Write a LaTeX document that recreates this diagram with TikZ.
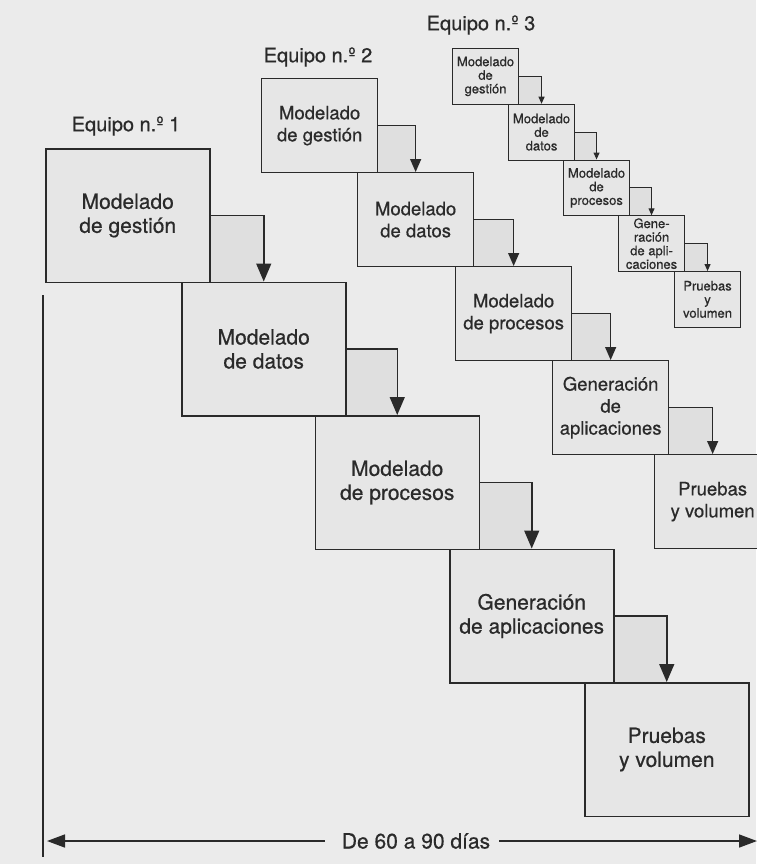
\documentclass[tikz,border=0pt]{standalone}
\usepackage{fontspec}
\setmainfont{TeX Gyre Heros}[FakeBold=0.6]
\usetikzlibrary{arrows.meta}
\definecolor{paper}{HTML}{EBEBEB}
\definecolor{boxfill}{HTML}{E6E6E6}
\definecolor{corner}{HTML}{DFDFDF}
\definecolor{ink}{HTML}{2A2A2A}
\pgfdeclarelayer{bg}
\pgfsetlayers{bg,main}
\tikzset{
  box/.style={draw=ink, fill=boxfill, anchor=north west, align=center, text=ink, inner sep=0pt},
  bigbox/.style={box, line width=1.5pt, minimum width=164pt, minimum height=133.5pt, font=\fontsize{21}{24}\selectfont},
  midbox/.style={box, line width=1.3pt, minimum width=116pt, minimum height=94pt, font=\fontsize{18.5}{22}\selectfont},
  smallbox/.style={box, line width=1.1pt, minimum width=66pt, minimum height=55.75pt, font=\fontsize{13}{13.6}\selectfont},
  bigflow/.style={draw=ink, line width=1.5pt, -{Triangle[length=18pt,width=15pt]}},
  midflow/.style={draw=ink, line width=1.3pt, -{Triangle[length=13pt,width=11pt]}},
  smallflow/.style={draw=ink, line width=1.1pt, -{Triangle[length=7pt,width=6pt]}},
  cornerfill/.style={fill=corner},
  teamlabel/.style={text=ink, font=\fontsize{20}{24}\selectfont, inner sep=0pt},
  span/.style={draw=ink, line width=1.5pt, -{Triangle[length=18pt,width=13pt]}},
}
\begin{document}
\begin{tikzpicture}[x=1pt,y=-1pt]
\begin{pgfonlayer}{bg}
  \fill[paper] (0,0) rectangle (756,864);
\end{pgfonlayer}
\useasboundingbox (0,0) rectangle (756,864);

% Team 1
\node[bigbox] (a1) at (45,148) {Modelado\\de gestión};
\node[bigbox] (a2) at (181,281.5) {Modelado\\de datos};
\node[bigbox] (a3) at (314.5,415) {Modelado\\de procesos};
\node[bigbox] (a4) at (449,548.5) {Generación\\de aplicaciones};
\node[bigbox] (a5) at (584,682) {Pruebas\\y volumen};

% Team 2
\node[midbox] (b1) at (261,78) {Modelado\\de gestión};
\node[midbox] (b2) at (357,172) {Modelado\\de datos};
\node[midbox] (b3) at (455,266) {Modelado\\de procesos};
\node[midbox] (b4) at (552,360) {Generación\\de\\aplicaciones};
\node[midbox] (b5) at (654,454) {Pruebas\\y volumen};

% Team 3
\node[smallbox] (c1) at (452,48) {Modelado\\de\\gestión};
\node[smallbox] (c2) at (508,103.75) {Modelado\\de\\datos};
\node[smallbox] (c3) at (563,159.5) {Modelado\\de\\procesos};
\node[smallbox] (c4) at (618,215.25) {Gene-\\ración\\de apli-\\caciones};
\node[smallbox] (c5) at (674,271) {Pruebas\\y\\volumen};

% corner shading
\begin{pgfonlayer}{bg}
  \foreach \p/\n in {a1/a2,a2/a3,a3/a4,a4/a5,b1/b2,b2/b3,b3/b4,b4/b5,c1/c2,c2/c3,c3/c4,c4/c5}
    \fill[cornerfill] (\p.east) rectangle (\n.north);
\end{pgfonlayer}

% flows
\foreach \p/\n in {a1/a2,a2/a3,a3/a4,a4/a5}
  \draw[bigflow] (\p.east) -| (\n.north);
\foreach \p/\n in {b1/b2,b2/b3,b3/b4,b4/b5}
  \draw[midflow] (\p.east) -| (\n.north);
\foreach \p/\n in {c1/c2,c2/c3,c3/c4,c4/c5}
  \draw[smallflow] (\p.east) -| (\n.north);

% labels
\node[teamlabel] (e1) at (126,126) {Equipo n.º 1};
\node[teamlabel] (e2) at (318,57) {Equipo n.º 2};
\node[teamlabel] (e3) at (481,25) {Equipo n.º 3};

% duration
\coordinate (vtop) at (43,295);
\coordinate (vbot) at (43,857);
\draw[draw=ink, line width=1.8pt] (vtop) -- (vbot);
\node[teamlabel, font=\fontsize{21}{24}\selectfont] (dur) at (416,841) {De 60 a 90 días};
\coordinate (lt) at (47,841);
\coordinate (rt) at (757,841);
\draw[span] ([xshift=-17pt]dur.west) -- (lt);
\draw[span] ([xshift=9pt]dur.east) -- (rt);
\end{tikzpicture}
\end{document}
